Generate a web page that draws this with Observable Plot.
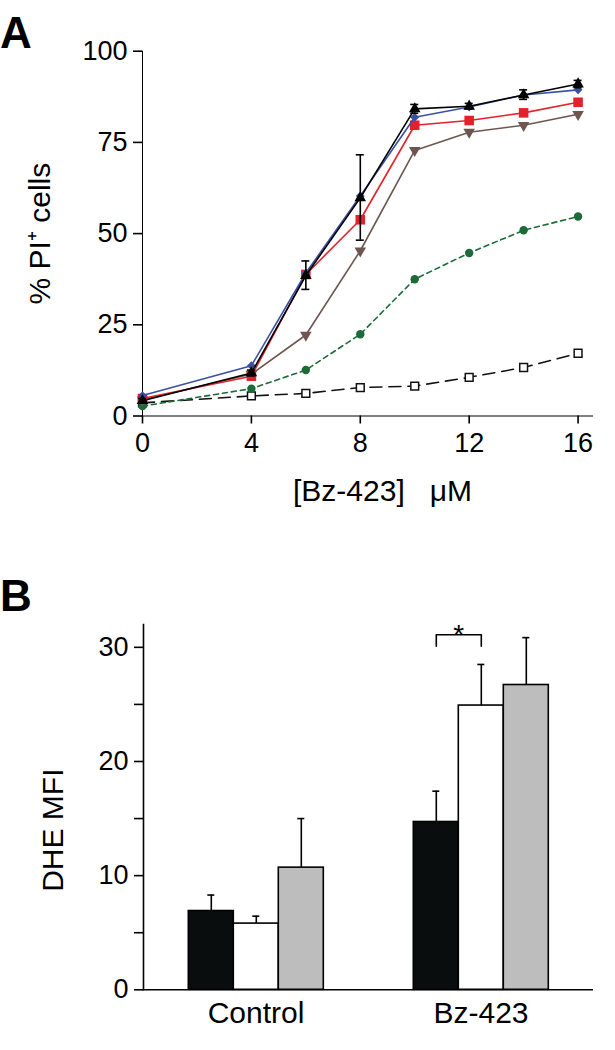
<!DOCTYPE html>
<html><head><meta charset="utf-8">
<script src="https://cdn.jsdelivr.net/npm/d3@7"></script>
<script src="https://cdn.jsdelivr.net/npm/@observablehq/plot@0.6"></script>
<style>
html,body{margin:0;padding:0;background:#fff;}
#root{position:relative;width:615px;height:1050px;font-family:"Liberation Sans",Arial,Helvetica,sans-serif;overflow:hidden;}
.pl{position:absolute;left:0;font-weight:bold;font-size:44px;line-height:44px;color:#000;}
#a{position:absolute;left:0;top:0;}
#b{position:absolute;left:0;top:540px;}
</style></head>
<body>
<div id="root"><div id="a"></div><div id="b"></div><div class="pl" style="top:11px">A</div><div class="pl" style="top:574px">B</div></div>
<script>
// ---------- Panel A data ----------
const conc = [0, 4, 6, 8, 10, 12, 14, 16];
const blackTriangle = [4.2, 11.8, 38.5, 59.8, 84.2, 84.9, 88.0, 91.0];
const blueDiamond   = [5.6, 13.8, 39.2, 60.3, 81.9, 84.7, 88.0, 89.4];
const redSquare     = [4.8, 10.9, 38.8, 53.8, 79.7, 81.0, 83.1, 86.0];
const brownTriangle = [4.4, 11.5, 22.2, 45.3, 72.8, 77.8, 79.7, 82.7];
const greenCircle   = [2.7, 7.5, 12.6, 22.4, 37.5, 44.7, 50.9, 54.7];
const openSquare    = [3.6, 5.5, 6.2, 7.8, 8.2, 10.6, 13.3, 17.2];
const blackErrLow   = [3.6, 11.0, 34.7, 48.2, 83.0, 84.2, 86.8, 90.0];
const blackErrHigh  = [4.8, 12.6, 42.5, 71.6, 85.4, 85.7, 89.4, 92.0];
const xTicksA = [0, 4, 8, 12, 16];
const yTicksA = [0, 25, 50, 75, 100];
const xTitleA = "[Bz-423]\u00a0\u00a0\u00a0μM";
const yTitleA = "% PI\u207A cells";

// ---------- Panel B data ----------
const groups = ["Control", "Bz-423"];
const conds = ["solid", "open", "grey"];
const dheSolid = [6.9, 14.7];
const dheOpen  = [5.8, 24.9];
const dheGrey  = [10.7, 26.7];
const semSolid = [1.4, 2.7];
const semOpen  = [0.65, 3.6];
const semGrey  = [4.3, 4.15];
const yTicksB = [0, 5, 10, 15, 20, 25, 30];
const yTitleB = "DHE MFI";
const sigGroup = "Bz-423";
const sigPair = ["solid", "open"];
const sigLeg = 30.1, sigTop = 31.1;

// ---------- styles (separate from data) ----------
const invTriangle = {draw(ctx, size) {
  const y = -Math.sqrt(size / (Math.sqrt(3) * 3));
  ctx.moveTo(0, -y * 2); ctx.lineTo(-Math.sqrt(3) * y, y); ctx.lineTo(Math.sqrt(3) * y, y); ctx.closePath();
}};
const seriesA = [
  {values: openSquare,    stroke: "#111", dash: "12,7", symbol: "square",   fill: "white",   r: 4.4, dotStroke: "#111"},
  {values: greenCircle,   stroke: "#1c6b38", dash: "5,4", symbol: "circle", fill: "#1c6b38", r: 4.2},
  {values: brownTriangle, stroke: "#6e5650", dash: null, symbol: invTriangle, fill: "#6e5650", r: 4.3},
  {values: redSquare,     stroke: "#e2222b", dash: null, symbol: "square",  fill: "#e2222b", r: 5.4},
  {values: blueDiamond,   stroke: "#3a51a3", dash: null, symbol: "diamond2", fill: "#3a51a3", r: 4.0},
  {values: blackTriangle, stroke: "#000", dash: null, symbol: "triangle",   fill: "#000",    r: 4.3}
];
const font = "Liberation Sans, Arial, Helvetica, sans-serif";
const SW = 1.6;

function thicken(svg) {
  svg.querySelectorAll("g[aria-label]").forEach(g => {
    const l = g.getAttribute("aria-label");
    if ((/axis/.test(l) && !/label/.test(l)) || /frame/.test(l)) g.setAttribute("stroke-width", SW);
  });
  return svg;
}

// ---------- Panel A ----------
const marksA = [];
seriesA.forEach(s => {
  const rows = conc.map((x, i) => ({x, y: s.values[i]}));
  marksA.push(Plot.line(rows, {x: "x", y: "y", stroke: s.stroke, strokeWidth: SW, strokeDasharray: s.dash}));
  marksA.push(Plot.dot(rows, {x: "x", y: "y", symbol: s.symbol, r: s.r, fill: s.fill,
    stroke: s.dotStroke || "none", strokeWidth: s.dotStroke ? 1.5 : 0}));
});
const errRows = conc.map((x, i) => ({x, lo: blackErrLow[i], hi: blackErrHigh[i]}));
marksA.push(Plot.ruleX(errRows, {x: "x", y1: "lo", y2: "hi", stroke: "#000", strokeWidth: SW}));
marksA.push(Plot.ruleY(errRows, {y: "hi", x1: "x", x2: "x", insetLeft: -4, insetRight: -4, stroke: "#000", strokeWidth: SW}));
marksA.push(Plot.ruleY(errRows, {y: "lo", x1: "x", x2: "x", insetLeft: -4, insetRight: -4, stroke: "#000", strokeWidth: SW}));
marksA.push(Plot.text([yTitleA], {text: d => d, frameAnchor: "left", textAnchor: "middle", dx: -93, rotate: -90, lineAnchor: "bottom", fontSize: 30}));
marksA.push(Plot.text([xTitleA], {text: d => d, frameAnchor: "bottom", textAnchor: "middle", dx: 15, dy: 85, lineAnchor: "bottom", fontSize: 30}));

const plotA = Plot.plot({
  width: 615, height: 540,
  marginLeft: 142, marginRight: 23, marginTop: 50.7, marginBottom: 124.5,
  style: {fontFamily: font, fontSize: "27px", color: "#000", background: "transparent", overflow: "visible"},
  x: {domain: [0, 16.53], ticks: xTicksA, tickSize: 8, tickPadding: 9, line: true, label: null},
  y: {domain: [0, 100], ticks: yTicksA, tickSize: 9, tickPadding: 6, line: true, label: null},
  marks: marksA
});
document.getElementById("a").appendChild(thicken(plotA));

// ---------- Panel B ----------
const means = [dheSolid, dheOpen, dheGrey];
const sems = [semSolid, semOpen, semGrey];
const rowsB = groups.flatMap((g, gi) => conds.map((c, ci) => ({group: g, cond: c, v: means[ci][gi], hi: means[ci][gi] + sems[ci][gi]})));
const bracket = [
  {group: sigGroup, cond: sigPair[0], v: sigLeg},
  {group: sigGroup, cond: sigPair[0], v: sigTop},
  {group: sigGroup, cond: sigPair[1], v: sigTop},
  {group: sigGroup, cond: sigPair[1], v: sigLeg}
];
const plotB = Plot.plot({
  width: 615, height: 510,
  marginLeft: 142.7, marginRight: 22, marginTop: 84, marginBottom: 60.7,
  style: {fontFamily: font, fontSize: "27px", color: "#000", background: "transparent", overflow: "visible"},
  fx: {domain: groups, padding: 0, label: null},
  x: {domain: conds, paddingInner: 0, paddingOuter: 1, axis: null},
  y: {domain: [0, 32], ticks: yTicksB, tickFormat: d => d % 10 === 0 ? String(d) : "", tickSize: 9, tickPadding: 6, line: true, label: null},
  color: {domain: conds, range: ["#0a0d0e", "#ffffff", "#bdbdbd"]},
  marks: [
    Plot.ruleY([0], {stroke: "#000", strokeWidth: SW}),
    Plot.barY(rowsB, {fx: "group", x: "cond", y: "v", fill: "cond", stroke: "#000", strokeWidth: SW}),
    Plot.ruleX(rowsB, {fx: "group", x: "cond", y1: "v", y2: "hi", stroke: "#000", strokeWidth: SW}),
    Plot.tickY(rowsB, {fx: "group", x: "cond", y: "hi", insetLeft: 19, insetRight: 19, stroke: "#000", strokeWidth: SW}),
    Plot.line(bracket, {fx: "group", x: "cond", y: "v", stroke: "#000", strokeWidth: SW}),
    Plot.text([bracket[2]], {fx: "group", x: "cond", y: "v", dx: -22.5, text: () => "*", lineAnchor: "middle", fontSize: 28}),
    Plot.text([{group: groups[0], t: yTitleB}], {fx: "group", text: "t", frameAnchor: "left", textAnchor: "middle", dx: -80.7, dy: 23, rotate: -90, lineAnchor: "bottom", fontSize: 30}),
    Plot.axisFx({anchor: "bottom", tickSize: 0, tickPadding: 12, fontSize: 30, label: null})
  ]
});
document.getElementById("b").appendChild(thicken(plotB));
</script>
</body></html>
